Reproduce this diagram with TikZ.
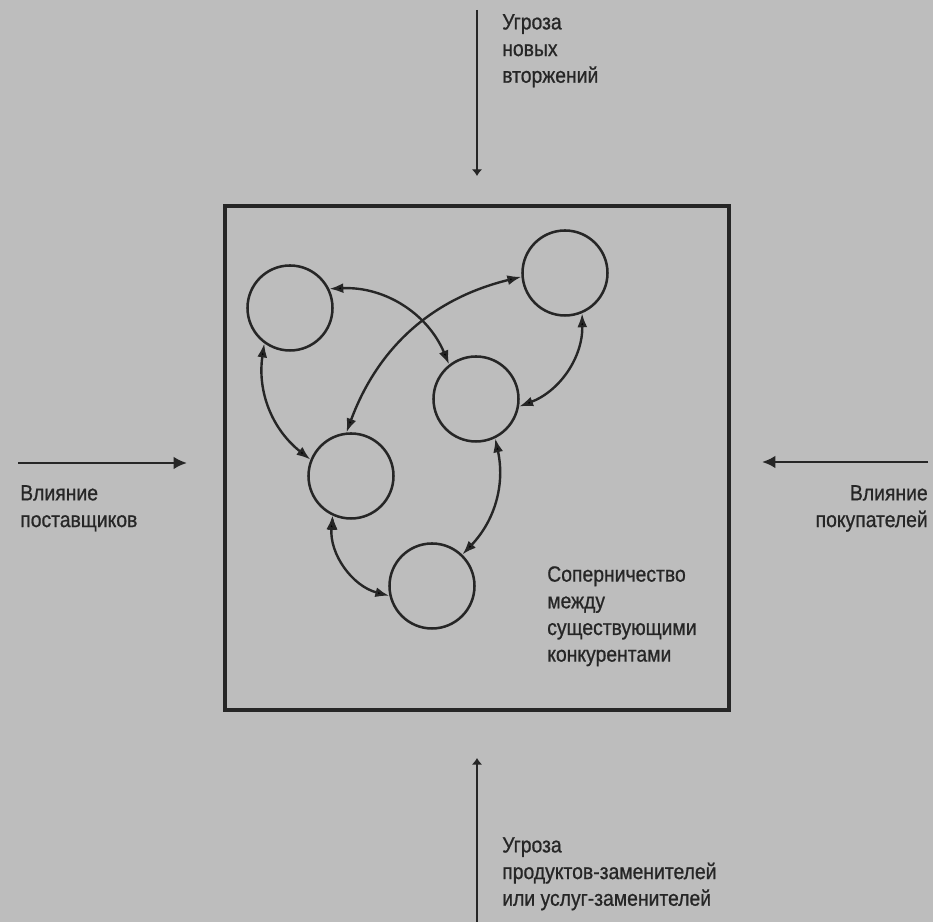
\documentclass[tikz,border=0pt]{standalone}
\usepackage{fontspec}
\setmainfont{Liberation Sans}[FakeStretch=0.88,FakeBold=0.8]
\usetikzlibrary{arrows.meta}
\definecolor{paper}{RGB}{189,189,189}
\definecolor{ink}{RGB}{38,38,38}
\tikzset{main node/.style={circle,draw=ink,line width=1.9pt,minimum size=63.75pt,inner sep=0pt},
  rival/.style={draw=ink,line width=1.8pt,arrows={Latex[length=10.5pt,width=7.5pt]}-{Latex[length=10.5pt,width=7.5pt]}},
  force/.style={draw=ink,line width=1.9pt,arrows=-{Latex[length=10pt,width=9.5pt]}},
  threat/.style={draw=ink,line width=2.1pt,arrows=-{Latex[length=5pt,width=8pt]}},
  force text/.style={inner sep=0pt,align=left,text=ink,font=\fontsize{16.5}{20}\selectfont},
}

\begin{document}
\begin{tikzpicture}[x=0.75pt,y=0.75pt]
	\fill[paper] (0,0) rectangle (933,922);
	\draw[ink,line width=2.6pt] (225,716) rectangle (729,212);
	
	% competitors
	\node[main node] (1) at (290,614) {};
	\node[main node] (2) at (565,649) {};
	\node[main node] (3) at (476,523) {};
	\node[main node] (4) at (351,446) {};
	\node[main node] (5) at (432,336) {};
	
	\path[rival]
	(1.26) edge[bend left=35] (3.128)
	(4.96) edge[bend left=28] (2.185)
	(2.-67) edge[bend left=35] (3.-10)
	(1.-126) edge[bend right=30] (4.158)
	(3.-64) edge[bend left=28] (5.46)
	(4.-115) edge[bend right=40] (5.-167);
	
	\node[force text,anchor=north west] (rivalry) at (547,356)
	{Соперничество\\между\\существующими\\конкурентами};
	
	% forces outside
	\coordinate (new tail) at (477,912);
	\coordinate (new head) at (477,746);
	\coordinate (sub tail) at (477,0);
	\coordinate (sub head) at (477,164);
	\coordinate (sup tail) at (18,459);
	\coordinate (sup head) at (187,459);
	\coordinate (buy tail) at (928,460);
	\coordinate (buy head) at (762,460);
	
	\draw[threat] (new tail) -- (new head);
	\draw[threat] (sub tail) -- (sub head);
	\draw[force] (sup tail) -- (sup head);
	\draw[force] (buy tail) -- (buy head);
	
	\node[force text,anchor=north west] (new) at (502,908) {Угроза\\новых\\вторжений};
	\node[force text,anchor=north west] (sub) at (502,85)
	{Угроза\\продуктов-заменителей\\или услуг-заменителей};
	\node[force text,anchor=north west] (sup) at (20,437) {Влияние\\поставщиков};
	\node[force text,anchor=north east,align=right] (buy) at (928,437) {Влияние\\покупателей};
\end{tikzpicture}
\end{document}
